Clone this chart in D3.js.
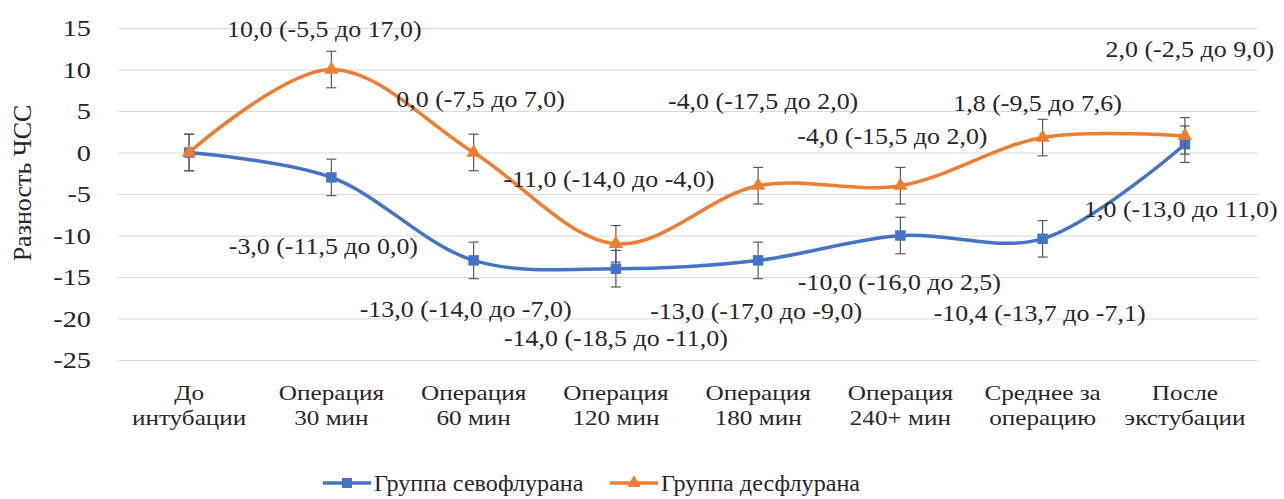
<!DOCTYPE html>
<html>
<head>
<meta charset="utf-8">
<script src="https://cdn.jsdelivr.net/npm/d3@7/dist/d3.min.js"></script>
</head>
<body style="margin:0">
<svg id="chart" width="1284" height="499"></svg>
<script>
// ---- data ----
const categories = [
  ["До", "интубации"],
  ["Операция", "30 мин"],
  ["Операция", "60 мин"],
  ["Операция", "120 мин"],
  ["Операция", "180 мин"],
  ["Операция", "240+ мин"],
  ["Среднее за", "операцию"],
  ["После", "экстубации"]
];
const sevoName = "Группа севофлурана";
const desName = "Группа десфлурана";
const sevoValues = [0, -3.0, -13.0, -14.0, -13.0, -10.0, -10.4, 1.0];
const desValues  = [0, 10.0, 0.0, -11.0, -4.0, -4.0, 1.8, 2.0];
const sevoErrors = [2.2, 2.2, 2.2, 2.2, 2.2, 2.2, 2.2, 2.2];
const desErrors  = [2.2, 2.2, 2.2, 2.2, 2.2, 2.2, 2.2, 2.2];
const sevoLabels = [null, "-3,0 (-11,5 до 0,0)", "-13,0 (-14,0 до -7,0)", "-14,0 (-18,5 до -11,0)",
  "-13,0 (-17,0 до -9,0)", "-10,0 (-16,0 до 2,5)", "-10,4 (-13,7 до -7,1)", "1,0 (-13,0 до 11,0)"];
const desLabels = [null, "10,0 (-5,5 до 17,0)", "0,0 (-7,5 до 7,0)", "-11,0 (-14,0 до -4,0)",
  "-4,0 (-17,5 до 2,0)", "-4,0 (-15,5 до 2,0)", "1,8 (-9,5 до 7,6)", "2,0 (-2,5 до 9,0)"];
const yTicks = [15, 10, 5, 0, -5, -10, -15, -20, -25];
const yTitle = "Разность ЧСС";

// ---- layout (pixel offsets of data labels from their points) ----
const sevoLabelOffsets = [null, [-8, 68], [-8, 48], [0, 69], [-2, 50], [-1, 46], [-3, 74], [-4, 64]];
const desLabelOffsets  = [null, [-7, -41], [7, -54], [-7, -65], [5, -85], [-8, -50], [-5, -35], [5, -87]];

const FONT = "Liberation Serif";
const blue = "#4472C4", orange = "#ED7D31", textColor = "#262626";
const svg = d3.select("#chart");

const x = d3.scalePoint().domain(d3.range(categories.length)).range([118, 1256]).padding(0.5);
const y = d3.scaleLinear().domain([-25, 15]).range([360, 28]);

// gridlines
const grid = svg.append("g").attr("transform", "translate(118,0)")
  .call(d3.axisLeft(y).tickValues(yTicks).tickSize(-1140).tickFormat(""));
grid.select(".domain").remove();
grid.selectAll("text").remove();
grid.selectAll("line").attr("stroke", "#d9d9d9").attr("stroke-width", 1.2);

// y axis labels
svg.append("g").selectAll("text").data(yTicks).join("text")
  .attr("transform", d => `translate(91,${y(d)}) scale(1.18,1)`)
  .attr("dy", "0.35em")
  .attr("text-anchor", "end").attr("fill", textColor)
  .attr("font-family", FONT).attr("font-size", 24)
  .text(d => String(d));

// y title
svg.append("text")
  .attr("transform", "translate(31,183) rotate(-90)")
  .attr("text-anchor", "middle")
  .attr("font-family", FONT).attr("font-size", 26)
  .attr("fill", textColor).text(yTitle);

// x category labels
const xl = svg.append("g");
categories.forEach((c, i) => {
  const t = xl.append("text")
    .attr("transform", `translate(${x(i)},0) scale(1.2,1)`)
    .attr("text-anchor", "middle").attr("fill", textColor)
    .attr("font-family", FONT).attr("font-size", 21);
  t.append("tspan").attr("x", 0).attr("y", 400).text(c[0]);
  t.append("tspan").attr("x", 0).attr("y", 425).text(c[1]);
});

// series
const line = d3.line().x((d, i) => x(i)).y(d => y(d)).curve(d3.curveCatmullRom.alpha(0.5));

function drawSeries(values, errors, color, marker) {
  const g = svg.append("g");
  values.forEach((v, i) => {
    const cx = x(i), y1 = y(v + errors[i]), y2 = y(v - errors[i]);
    g.append("line").attr("x1", cx).attr("x2", cx).attr("y1", y1).attr("y2", y2)
      .attr("stroke", "#595959").attr("stroke-width", 1.2);
    [y1, y2].forEach(yy => g.append("line").attr("x1", cx - 5).attr("x2", cx + 5)
      .attr("y1", yy).attr("y2", yy).attr("stroke", "#595959").attr("stroke-width", 1.2));
  });
  g.append("path").datum(values).attr("d", line)
    .attr("fill", "none").attr("stroke", color).attr("stroke-width", 3.5)
    .attr("stroke-linejoin", "round");
  values.forEach((v, i) => {
    g.append("path")
      .attr("d", d3.symbol().type(marker).size(marker === d3.symbolSquare ? 110 : 90)())
      .attr("transform", `translate(${x(i)},${y(v)})`)
      .attr("fill", color);
  });
}
drawSeries(sevoValues, sevoErrors, blue, d3.symbolSquare);
drawSeries(desValues, desErrors, orange, d3.symbolTriangle);

// data labels
function drawLabels(values, labels, offsets) {
  labels.forEach((lab, i) => {
    if (!lab) return;
    const o = offsets[i];
    svg.append("text")
      .attr("transform", `translate(${x(i) + o[0]},${y(values[i]) + o[1]}) scale(1.08,1)`)
      .attr("dy", "0.35em")
      .attr("text-anchor", "middle")
      .attr("font-family", FONT).attr("font-size", 24)
      .attr("fill", textColor).text(lab);
  });
}
drawLabels(desValues, desLabels, desLabelOffsets);
drawLabels(sevoValues, sevoLabels, sevoLabelOffsets);

// legend
const legendItems = [
  { name: sevoName, color: blue, marker: d3.symbolSquare, x0: 323 },
  { name: desName, color: orange, marker: d3.symbolTriangle, x0: 610 }
];
legendItems.forEach(it => {
  const g = svg.append("g").attr("transform", `translate(${it.x0},483)`);
  g.append("line").attr("x1", 0).attr("x2", 48).attr("y1", 0).attr("y2", 0)
    .attr("stroke", it.color).attr("stroke-width", 3.5);
  g.append("path").attr("d", d3.symbol().type(it.marker).size(it.marker === d3.symbolSquare ? 100 : 80)())
    .attr("transform", "translate(24,0)").attr("fill", it.color);
  g.append("text").attr("transform", "translate(51,0) scale(1.05,1)")
    .attr("dy", "0.35em").attr("fill", textColor)
    .attr("font-family", FONT).attr("font-size", 23).text(it.name);
});
</script>
</body>
</html>
